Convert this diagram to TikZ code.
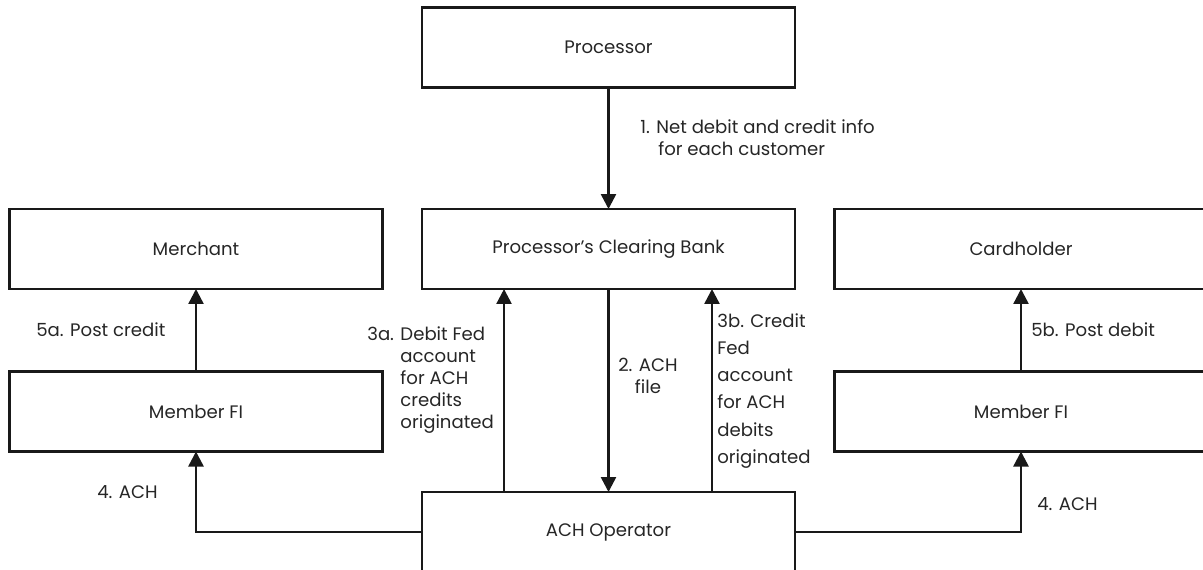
\documentclass[tikz,border=0pt]{standalone}
\usepackage{fontspec}
\setmainfont{Poppins}
\usetikzlibrary{arrows.meta}
\begin{document}
\begin{tikzpicture}[x=0.02cm,y=-0.02cm,
  every node/.style={font=\fontsize{10.3}{12.5}\selectfont, text=black!85},
  blk/.style={draw=black!90, line width=1.4pt, minimum width=7.46cm, minimum height=1.6cm, inner sep=0pt, outer sep=0pt},
  arr/.style={draw=black!90, line width=1.4pt, -{Triangle[width=0.3cm,length=0.3cm]}},
  lab/.style={align=left, anchor=west, inner sep=0pt}]
\useasboundingbox (0,0) rectangle (1203,569);
\clip (0,0) rectangle (1203,569);
% boxes
\node[blk] (proc) at (608.5,47.5) {Processor};
\node[blk] (clr) at (608.5,249) {Processor’s Clearing Bank};
\node[blk] (ach) at (608.5,532) {ACH Operator};
\node[blk] (merch) at (196,249) {Merchant};
\node[blk] (memL) at (196,411.5) {Member FI};
\node[blk] (card) at (1021,249) {Cardholder};
\node[blk] (memR) at (1021,411.5) {Member FI};
% flows
\draw[arr] (proc) -- (clr);
\draw[arr] (clr) -- (ach);
\draw[arr] ([xshift=-2.09cm]ach.north) -- ([xshift=-2.09cm]clr.south);
\draw[arr] ([xshift=2.07cm]ach.north) -- ([xshift=2.07cm]clr.south);
\draw[arr] (ach.west) -| (memL.south);
\draw[arr] (ach.east) -| (memR.south);
\draw[arr] (memL) -- (merch);
\draw[arr] (memR) -- (card);
% labels
\node[lab] (l1) at (640,138) {1. Net debit and credit info\\\hspace*{0.36cm}for each customer};
\node[align=center, inner sep=0pt] (l2) at (648,376) {2. ACH\\file};
\node[lab] (l3a) at (367,380) {\begin{tabular}{@{}l@{ }l@{}}
  3a. & Debit Fed\\ & account\\ & for ACH\\ & credits\\ & originated\end{tabular}};
\node[lab, font=\fontsize{10.3}{15.4}\selectfont] (l3b) at (717,391) {3b. Credit\\Fed\\account\\for ACH\\debits\\originated};
\node[lab] (l5a) at (36,330) {5a. Post credit};
\node[lab] (l4a) at (97,492) {4. ACH};
\node[lab] (l5b) at (1031,330) {5b. Post debit};
\node[lab] (l4b) at (1037,504) {4. ACH};
\end{tikzpicture}
\end{document}
